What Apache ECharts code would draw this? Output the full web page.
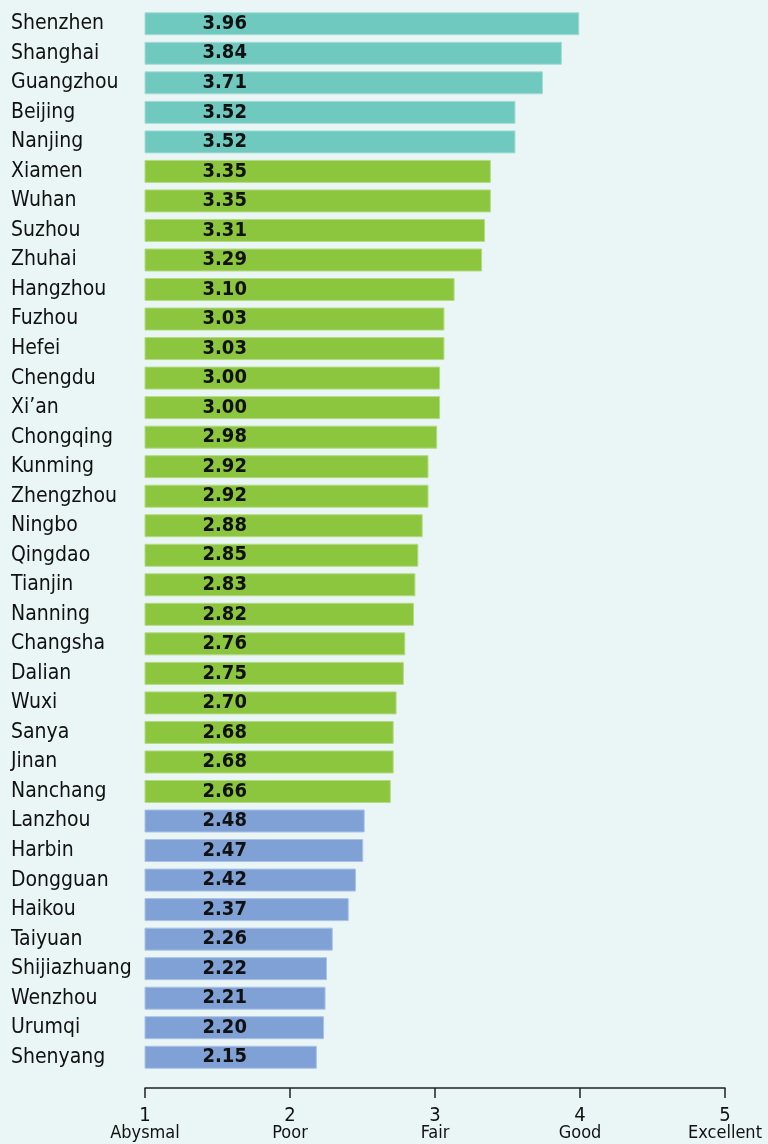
<!DOCTYPE html>
<html>
<head>
<meta charset="utf-8">
<script src="https://cdn.jsdelivr.net/npm/echarts@6/dist/echarts.min.js"></script>
<style>
  html, body { margin: 0; padding: 0; background: #eaf6f6; }
  #main { width: 768px; height: 1144px; }
</style>
</head>
<body>
<div id="main"></div>
<script>
var cities = ['Shenzhen', 'Shanghai', 'Guangzhou', 'Beijing', 'Nanjing', 'Xiamen', 'Wuhan', 'Suzhou',
  'Zhuhai', 'Hangzhou', 'Fuzhou', 'Hefei', 'Chengdu', 'Xi\u2019an', 'Chongqing', 'Kunming', 'Zhengzhou',
  'Ningbo', 'Qingdao', 'Tianjin', 'Nanning', 'Changsha', 'Dalian', 'Wuxi', 'Sanya', 'Jinan', 'Nanchang',
  'Lanzhou', 'Harbin', 'Dongguan', 'Haikou', 'Taiyuan', 'Shijiazhuang', 'Wenzhou', 'Urumqi', 'Shenyang'];
var scores = [3.96, 3.84, 3.71, 3.52, 3.52, 3.35, 3.35, 3.31, 3.29, 3.10, 3.03, 3.03, 3.00, 3.00, 2.98,
  2.92, 2.92, 2.88, 2.85, 2.83, 2.82, 2.76, 2.75, 2.70, 2.68, 2.68, 2.66,
  2.48, 2.47, 2.42, 2.37, 2.26, 2.22, 2.21, 2.20, 2.15];
// tier of each city: 0 = top, 1 = middle, 2 = bottom
var tiers = [0, 0, 0, 0, 0,
  1, 1, 1, 1, 1, 1, 1, 1, 1, 1, 1, 1, 1, 1, 1, 1, 1, 1, 1, 1, 1, 1,
  2, 2, 2, 2, 2, 2, 2, 2, 2];
var tickNames = ['Abysmal', 'Poor', 'Fair', 'Good', 'Excellent'];

var fills = ['#6fc9bf', '#8cc63f', '#7fa1d5'];
var edges = ['#a6ddd6', '#b5da82', '#abc2e6'];
var font = '"Liberation Sans Narrow", "DejaVu Sans Condensed", sans-serif';

var chart = echarts.init(document.getElementById('main'));

var option = {
  backgroundColor: '#eaf6f6',
  animation: false,
  grid: { left: 145, right: 43, top: 9, bottom: 72 },
  xAxis: [{
    type: 'value',
    min: 1,
    max: 5,
    interval: 1,
    offset: 16,
    splitLine: { show: false },
    axisLine: { show: true, lineStyle: { color: '#222', width: 1.5 } },
    axisTick: { show: true, inside: false, length: 10, lineStyle: { color: '#222', width: 1.5 } },
    axisLabel: {
      margin: 19,
      fontFamily: font,
      formatter: function (v) {
        return '{n|' + v + '}\n{t|' + tickNames[v - 1] + '}';
      },
      rich: {
        n: { fontSize: 20, lineHeight: 17, color: '#111', fontFamily: font },
        t: { fontSize: 18, lineHeight: 19, color: '#111', fontFamily: font }
      }
    }
  }, {
    // the printed bars run a touch past the axis scale; this hidden scale keeps that
    type: 'value',
    min: 0.965,
    max: 4.965,
    show: false
  }],
  yAxis: {
    type: 'category',
    inverse: true,
    data: cities,
    axisLine: { show: false },
    axisTick: { show: false },
    axisLabel: {
      align: 'left',
      margin: 134,
      padding: [4, 0, 0, 0],
      fontSize: 21,
      color: '#111',
      fontFamily: font
    }
  },
  series: [{
    type: 'bar',
    xAxisIndex: 1,
    barWidth: 23,
    data: scores.map(function (s, i) {
      return {
        value: s,
        itemStyle: { color: fills[tiers[i]], borderColor: edges[tiers[i]], borderWidth: 1 }
      };
    }),
    label: {
      show: true,
      position: [58, '50%'],
      verticalAlign: 'middle',
      formatter: function (p) { return p.value.toFixed(2); },
      fontFamily: font,
      fontWeight: 'bold',
      fontSize: 20,
      color: '#111'
    }
  }]
};

chart.setOption(option);
</script>
</body>
</html>
